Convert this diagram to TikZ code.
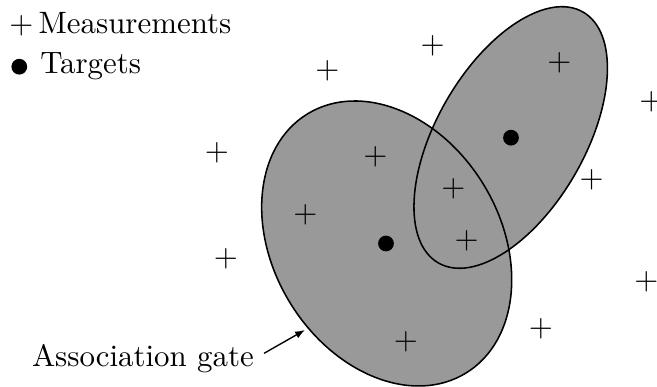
\documentclass[tikz,border=0pt]{standalone}
\usetikzlibrary{arrows.meta}
\begin{document}
\begin{tikzpicture}[x=0.3236pt,y=0.3236pt,
  gatefill/.style={fill=black!40},
  gateline/.style={draw=black,line width=0.5pt},
  meas/.style={inner sep=0pt},
  target/.style={circle,fill=black,inner sep=0pt,minimum size=5.1pt},
  lbl/.style={inner sep=0pt,anchor=base west},
  pointer/.style={-{Latex[length=3.2pt,width=2.4pt]},line width=0.45pt,shorten <=3.6pt}]
\useasboundingbox (0,0) rectangle (657,387);
% gates
\fill[gatefill] (386.7,143.5) ellipse [x radius=151.9,y radius=113.4,rotate=-58.6];
\fill[gatefill] (510.7,249.5) ellipse [x radius=144.8,y radius=74.1,rotate=60];
\draw[gateline] (386.7,143.5) ellipse [x radius=151.9,y radius=113.4,rotate=-58.6];
\draw[gateline] (510.7,249.5) ellipse [x radius=144.8,y radius=74.1,rotate=60];
% targets
\node[target] (t1) at (386,143.5) {};
\node[target] (t2) at (511,249.3) {};
% measurements
\node[meas] (m1) at (432.7,341.3) {$+$};
\node[meas] (m2) at (327.3,316.3) {$+$};
\node[meas] (m3) at (559.3,324.3) {$+$};
\node[meas] (m4) at (651.5,285) {$+$};
\node[meas] (m5) at (217,234) {$+$};
\node[meas] (m6) at (375.3,230.3) {$+$};
\node[meas] (m7) at (453.3,198) {$+$};
\node[meas] (m8) at (591.7,207.7) {$+$};
\node[meas] (m9) at (305.3,172) {$+$};
\node[meas] (m10) at (466.7,146.3) {$+$};
\node[meas] (m11) at (226,128) {$+$};
\node[meas] (m12) at (646.3,105.3) {$+$};
\node[meas] (m13) at (541,58.7) {$+$};
\node[meas] (m14) at (406,45.3) {$+$};
% legend
\node[meas] (lm) at (21.3,361.7) {$+$};
\node[lbl] (lmt) at (38,353.7) {Measurements};
\node[target] (lt) at (19.3,320.3) {};
\node[lbl] (ltt) at (39.7,313) {Targets};
% annotation
\node[lbl] (ag) at (31.4,20.3) {Association gate};
\coordinate (agtip) at (305,57);
\draw[pointer] (ag.east) -- (agtip);
\end{tikzpicture}
\end{document}
